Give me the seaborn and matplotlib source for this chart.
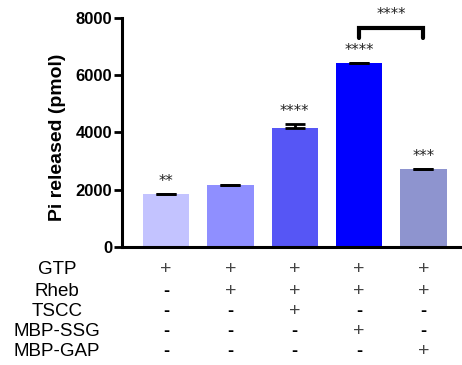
import matplotlib
matplotlib.use("Agg")
import matplotlib.pyplot as plt
import matplotlib.transforms as mtransforms
import seaborn as sns
import pandas as pd

# ---- data ----
conditions = ["C1", "C2", "C3", "C4", "C5"]
pi_released = [1840, 2150, 4150, 6400, 2710]
sem_upper = [20, 15, 150, 20, 20]
bar_colors = ["#c3c3ff", "#8f8fff", "#5656f5", "#0000ff", "#8e94cf"]
stars = ["**", "", "****", "****", "***"]
bracket_pair = [3, 4]
bracket_label = "****"
row_labels = ["GTP", "Rheb", "TSCC", "MBP-SSG", "MBP-GAP"]
table_signs = [
    ["+", "+", "+", "+", "+"],
    ["-", "+", "+", "+", "+"],
    ["-", "-", "+", "-", "-"],
    ["-", "-", "-", "+", "-"],
    ["-", "-", "-", "-", "+"],
]
y_ticks = [0, 2000, 4000, 6000, 8000]

sns.set_theme(style="white")
plt.rcParams["font.family"] = ["Liberation Sans", "DejaVu Sans"]
plt.rcParams["text.color"] = "black"
plt.rcParams["axes.labelcolor"] = "black"
plt.rcParams["ytick.color"] = "black"
plt.rcParams["xtick.color"] = "black"

W, H = 462, 365
fig = plt.figure(figsize=(W / 100, H / 100), dpi=100)
ax = fig.add_axes([122 / W, (H - 247) / H, 340 / W, 229.5 / H])

df = pd.DataFrame({"cond": conditions, "val": pi_released})
sns.barplot(data=df, x="cond", y="val", hue="cond", palette=bar_colors,
            saturation=1, width=0.72, legend=False, ax=ax, errorbar=None,
            linewidth=0)

xs = list(range(len(conditions)))
ax.errorbar(xs, pi_released, yerr=[[0] * len(xs), sem_upper], fmt="none",
            ecolor="black", elinewidth=2, capsize=7, capthick=2, zorder=5)

for x, v, e, s in zip(xs, pi_released, sem_upper, stars):
    if s:
        ax.text(x, v + e + 170, s, ha="center", va="bottom", fontsize=10.5,
                family="DejaVu Sans", color="#222222", clip_on=False)

# bracket
x0, x1 = bracket_pair
ax.plot([x0, x0, x1, x1], [7300, 7650, 7650, 7300], color="black", lw=3,
        solid_joinstyle="miter", clip_on=False)
ax.text((x0 + x1) / 2, 7850, bracket_label, ha="center", va="bottom",
        fontsize=10.5, family="DejaVu Sans", color="#222222", clip_on=False)

ax.set_xlim(-0.684, 4.6)
ax.set_ylim(0, 8000)
ax.set_yticks(y_ticks)
ax.set_yticklabels([str(t) for t in y_ticks], fontsize=12, fontweight="bold")
ax.set_xticks([])
ax.set_xlabel("")
ax.set_ylabel("Pi released (pmol)", fontsize=14, fontweight="bold")
ax.yaxis.set_label_coords(-0.165, 0.48)
ax.tick_params(axis="y", left=True, length=6, width=2, pad=1, color="black")
for side in ["top", "right"]:
    ax.spines[side].set_visible(False)
for side in ["left", "bottom"]:
    ax.spines[side].set_linewidth(2.2)
    ax.spines[side].set_color("black")

# condition table
row_y = [269, 291, 311, 332, 351]
trans = mtransforms.blended_transform_factory(ax.transData, fig.transFigure)
for lab, yp, signs in zip(row_labels, row_y, table_signs):
    fy = 1 - yp / H
    fig.text(57 / W, fy, lab, ha="center", va="center", fontsize=13.5, color="black")
    for x, s in zip(xs, signs):
        if s == "+":
            ax.text(x, fy, "+", transform=trans, ha="center", va="center",
                    fontsize=14, color="#444444", fontweight="light", clip_on=False)
        else:
            ax.text(x, fy, "-", transform=trans, ha="center", va="center",
                    fontsize=13, color="black", fontweight="bold", clip_on=False)

fig.savefig("out.png", dpi=100)
